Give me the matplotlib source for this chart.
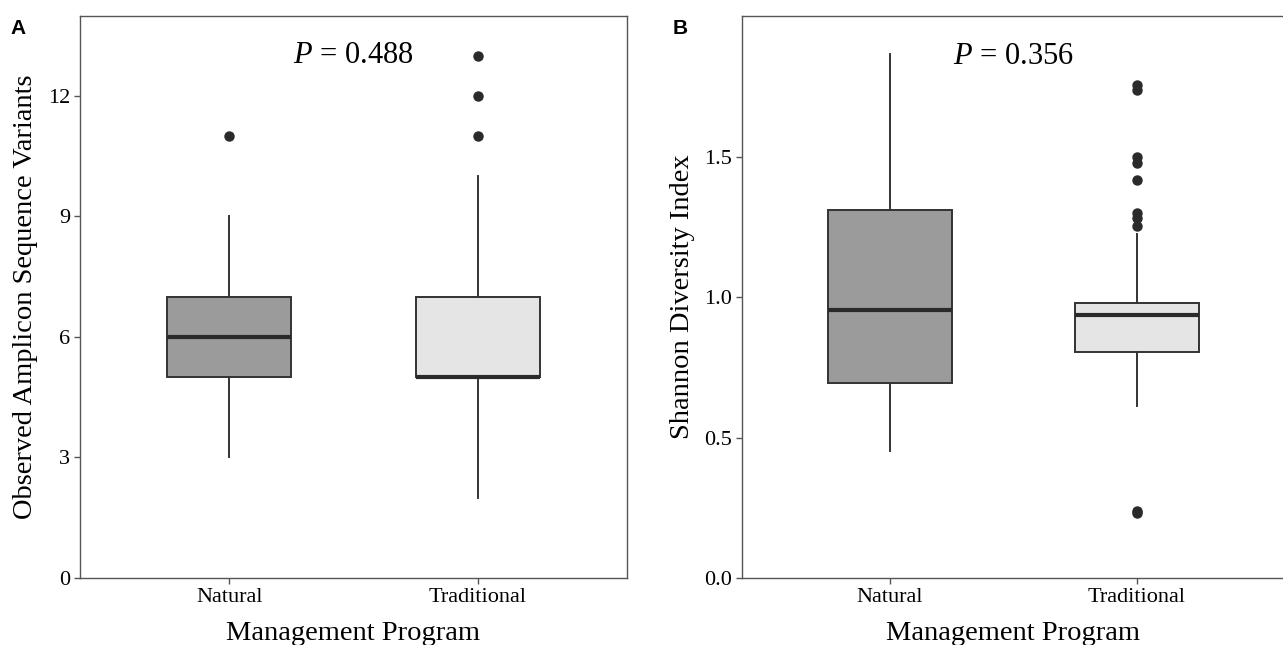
import matplotlib
matplotlib.use("Agg")
import matplotlib.pyplot as plt

# ---- data ----
categories = ["Natural", "Traditional"]
fills = ["#9b9b9b", "#e5e5e5"]

# Panel A: Observed ASVs
asv_whislo = [3, 2]
asv_q1 = [5, 5]
asv_med = [6, 5]
asv_q3 = [7, 7]
asv_whishi = [9, 10]
asv_fliers = [[11], [11, 12, 13]]
asv_p = "0.488"
asv_yticks = [0, 3, 6, 9, 12]

# Panel B: Shannon diversity
sh_whislo = [0.453, 0.613]
sh_q1 = [0.695, 0.805]
sh_med = [0.955, 0.937]
sh_q3 = [1.311, 0.980]
sh_whishi = [1.867, 1.225]
sh_fliers = [[], [0.232, 0.240, 1.254, 1.283, 1.301, 1.418, 1.479, 1.500, 1.739, 1.757]]
sh_p = "0.356"
sh_yticks = [0.0, 0.5, 1.0, 1.5]

W, H = 1283, 645
fig = plt.figure(figsize=(W / 100, H / 100), dpi=100)
serif = ["Liberation Serif", "DejaVu Serif"]

plt.rcParams["mathtext.fontset"] = "custom"
plt.rcParams["mathtext.it"] = "Liberation Serif:italic"
plt.rcParams["mathtext.rm"] = "Liberation Serif"


def panel(rect, whislo, q1, med, q3, whishi, fliers, ylim, yticks, yfmt, ylabel, ptxt, pty, letter):
    ax = fig.add_axes(rect)
    stats = []
    for i in range(len(categories)):
        stats.append(dict(whislo=whislo[i], q1=q1[i], med=med[i], q3=q3[i],
                          whishi=whishi[i], fliers=fliers[i], label=categories[i]))
    bp = ax.bxp(stats, positions=[1, 2], widths=0.5, patch_artist=True, showcaps=False,
                boxprops=dict(edgecolor="#333333", linewidth=1.4),
                whiskerprops=dict(color="#333333", linewidth=1.4),
                medianprops=dict(color="#2a2a2a", linewidth=3.0, solid_capstyle="butt"),
                flierprops=dict(marker="o", markerfacecolor="#2a2a2a", markeredgecolor="#2a2a2a",
                                markersize=6.5, linestyle="none"))
    for patch, c in zip(bp["boxes"], fills):
        patch.set_facecolor(c)
    ax.set_xlim(0.4, 2.6)
    ax.set_ylim(*ylim)
    ax.set_yticks(yticks)
    ax.set_yticklabels([yfmt.format(v) for v in yticks])
    ax.set_xticks([1, 2])
    ax.set_xticklabels(categories)
    for lab in ax.get_xticklabels() + ax.get_yticklabels():
        lab.set_fontfamily(serif)
        lab.set_fontsize(16)
        lab.set_color("black")
    ax.tick_params(axis="both", length=4, width=1, color="#555555", pad=3)
    for s in ax.spines.values():
        s.set_color("#555555")
        s.set_linewidth(1.0)
    ax.set_xlabel("Management Program", fontfamily=serif, fontsize=20.5, labelpad=10)
    ax.set_ylabel(ylabel, fontfamily=serif, fontsize=20.5, labelpad=7)
    ax.text(1.5, pty, r"$\it{P}$ = " + ptxt, ha="center", va="center",
            fontfamily=serif, fontsize=22)
    fig.text(rect[0] - 0.048, 0.956, letter, fontfamily=["Liberation Sans", "DejaVu Sans"],
             fontweight="bold", fontsize=15, ha="center", va="center")
    return ax


panel([80 / W, 67 / H, 547 / W, 562 / H], asv_whislo, asv_q1, asv_med, asv_q3, asv_whishi,
      asv_fliers, (0, 13.99), asv_yticks, "{:d}", "Observed Amplicon Sequence Variants",
      asv_p, 13.0, "A")
panel([742 / W, 67 / H, 543 / W, 562 / H], sh_whislo, sh_q1, sh_med, sh_q3, sh_whishi,
      sh_fliers, (0, 2.003), sh_yticks, "{:.1f}", "Shannon Diversity Index",
      sh_p, 1.86, "B")

fig.savefig("out.png", dpi=100)
